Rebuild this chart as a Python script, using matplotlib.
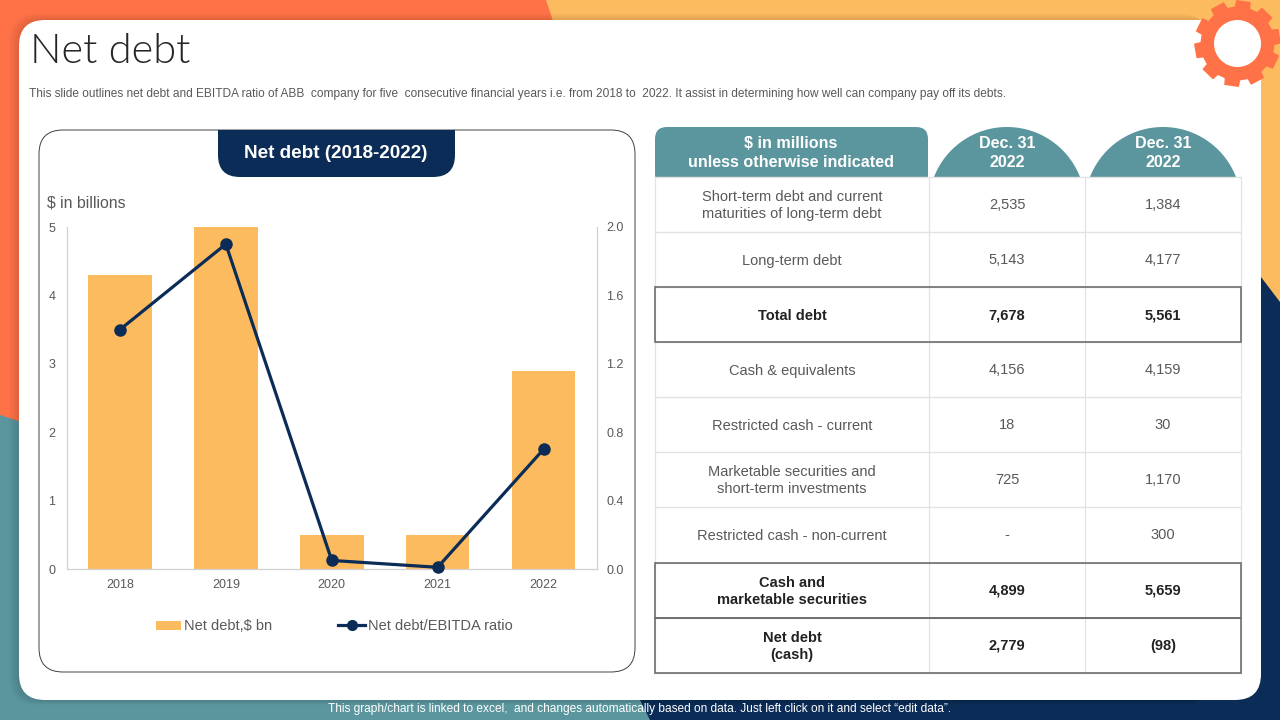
import numpy as np
import matplotlib
matplotlib.use("Agg")
import matplotlib.pyplot as plt
from matplotlib.patches import FancyBboxPatch, Polygon, Rectangle, Circle, PathPatch
from matplotlib.path import Path

# ---------- data ----------
years = ["2018", "2019", "2020", "2021", "2022"]
net_debt = [4.3, 5.0, 0.5, 0.5, 2.9]
ratio = [1.40, 1.90, 0.05, 0.01, 0.70]
left_ticks = [0, 1, 2, 3, 4, 5]
right_ticks = [0.0, 0.4, 0.8, 1.2, 1.6, 2.0]

header = ["$ in millions\nunless otherwise indicated", "Dec. 31\n2022", "Dec. 31\n2022"]
row_labels = ["Short-term debt and current\nmaturities of long-term debt", "Long-term debt", "Total debt",
              "Cash & equivalents", "Restricted cash - current",
              "Marketable securities and\nshort-term investments", "Restricted cash - non-current",
              "Cash and\nmarketable securities", "Net debt\n(cash)"]
col_a = ["2,535", "5,143", "7,678", "4,156", "18", "725", "-", "4,899", "2,779"]
col_b = ["1,384", "4,177", "5,561", "4,159", "30", "1,170", "300", "5,659", "(98)"]
bold_rows = [2, 7, 8]

title = "Net debt"
subtitle = ("This slide outlines net debt and EBITDA ratio of ABB  company for five  consecutive financial years i.e. "
            "from 2018 to  2022. It assist in determining how well can company pay off its debts.")
footer = "This graph/chart is linked to excel,  and changes automatically based on data. Just left click on it and select \u201cedit data\u201d."

ORANGE, YELLOW, TEAL, NAVY = "#FF7247", "#FDBB5F", "#5B969E", "#0B2C56"
GREY = "#595959"
plt.rcParams["font.family"] = ["Liberation Sans", "DejaVu Sans"]

fig = plt.figure(figsize=(12.8, 7.2), dpi=100)
bg = fig.add_axes([0, 0, 1, 1])
bg.set_xlim(0, 1280); bg.set_ylim(720, 0); bg.axis("off")

# ---------- background ----------
bg.add_patch(Rectangle((0, 0), 1280, 720, fc=TEAL, ec="none", zorder=0))
bg.add_patch(Polygon([(0, 0), (548, 0), (556, 30), (40, 30), (40, 428), (0, 415)], fc=ORANGE, ec="none", zorder=1))
bg.add_patch(Polygon([(546, 0), (1280, 0), (1280, 320), (1200, 320), (1200, 30), (556, 30)], fc=YELLOW, ec="none", zorder=1))
bg.add_patch(Polygon([(1261, 277), (1280, 302), (1280, 720), (650, 720), (640, 700), (640, 650), (1261, 650)],
                     fc=NAVY, ec="none", zorder=1))
# soft panel shadow, offset to the top-left
for pad in [2, 4, 6, 8, 10]:
    bg.add_patch(FancyBboxPatch((19 - pad, 20 - pad * 0.6), 1200, 680 + pad * 0.6 + pad * 0.5,
                                boxstyle="round,pad=0,rounding_size=28", fc="#000000", alpha=0.022, ec="none", zorder=2))
bg.add_patch(FancyBboxPatch((19, 20), 1242, 680, boxstyle="round,pad=0,rounding_size=26",
                            fc="white", ec="none", zorder=3))

# gear
cx, cy = 1237.5, 43.5
n_teeth = 10
ang, rad = [], []
for i in range(n_teeth):
    a0 = 2 * np.pi * i / n_teeth + np.radians(-10)
    w = 2 * np.pi / n_teeth
    ang += [a0 - 0.34 * w, a0 - 0.27 * w, a0 + 0.27 * w, a0 + 0.34 * w]
    rad += [37, 43.5, 43.5, 37]
gx = cx + np.array(rad) * np.cos(ang)
gy = cy + np.array(rad) * np.sin(ang)
bg.add_patch(Polygon(np.c_[gx, gy], fc=ORANGE, ec="none", zorder=6))
bg.add_patch(Circle((cx, cy), 23.5, fc="white", ec="none", zorder=7))

# titles
bg.text(30, 51.5, title, fontsize=30, family="Lato", fontweight=300, color="#262626", va="center", ha="left", zorder=8)
bg.text(29, 93.5, subtitle, fontsize=8.55, color=GREY, va="center", ha="left", zorder=8)
bg.text(640, 709, footer, fontsize=8.6, color="white", va="center", ha="center", zorder=8)

# chart frame
bg.add_patch(FancyBboxPatch((39, 130), 596, 542, boxstyle="round,pad=0,rounding_size=24",
                            fc="white", ec="#404040", lw=0.7, zorder=4))
p = Path([(218, 130), (455, 130), (455, 155), (455, 177), (433, 177), (240, 177), (218, 177), (218, 155), (218, 130)],
         [Path.MOVETO, Path.LINETO, Path.LINETO, Path.CURVE3, Path.CURVE3, Path.LINETO, Path.CURVE3, Path.CURVE3, Path.CLOSEPOLY])
bg.add_patch(PathPatch(p, fc=NAVY, ec="none", zorder=5))
bg.text(336, 153, "Net debt (2018-2022)", fontsize=13.6, fontweight="bold", color="white", ha="center", va="center", zorder=8)
bg.text(47, 203, "$ in billions", fontsize=11.4, color=GREY, ha="left", va="center", zorder=8)

# ---------- chart ----------
L, R, T, B = 67, 596.5, 227, 569
ax = fig.add_axes([L / 1280, 1 - B / 720, (R - L) / 1280, (B - T) / 720], zorder=5)
ax.patch.set_alpha(0)
x = np.arange(len(years))
ax.bar(x, net_debt, width=0.6, color=YELLOW, zorder=2)
ax.set_xlim(-0.5, 4.5); ax.set_ylim(0, 5)
ax.set_xticks(x, years)
ax.set_yticks(left_ticks)
ax.tick_params(axis="both", length=0, labelsize=9, labelcolor=GREY)
ax.tick_params(axis="x", pad=7.5)
ax.tick_params(axis="y", pad=8.5)
for s in ["top", "right"]:
    ax.spines[s].set_visible(False)
for s in ["left", "bottom"]:
    ax.spines[s].set_color("#D0D0D0"); ax.spines[s].set_linewidth(0.9)
ax2 = ax.twinx()
ax2.patch.set_alpha(0)
ax2.plot(x, ratio, color=NAVY, lw=2.3, marker="o", ms=8, zorder=3, clip_on=False)
ax2.set_ylim(0, 2.0)
ax2.set_yticks(right_ticks, [f"{v:.1f}" for v in right_ticks])
ax2.tick_params(axis="y", length=0, labelsize=9, labelcolor=GREY, pad=7)
for s in ["top", "left", "bottom"]:
    ax2.spines[s].set_visible(False)
ax2.spines["right"].set_color("#D0D0D0"); ax2.spines["right"].set_linewidth(0.9)

# legend (manual placement, matching the reference)
bg.add_patch(Rectangle((156, 621), 25, 9, fc=YELLOW, ec="none", zorder=8))
bg.text(184, 625.5, "Net debt,$ bn", fontsize=10.5, color=GREY, va="center", ha="left", zorder=8)
bg.plot([338, 365], [625, 625], color=NAVY, lw=2.3, zorder=8)
bg.plot([351.5], [625], "o", color=NAVY, ms=7, zorder=8)
bg.text(368, 625.5, "Net debt/EBITDA ratio", fontsize=10.5, color=GREY, va="center", ha="left", zorder=8)

# ---------- table ----------
col_x = [655, 929, 1085, 1241]
row_y = [177, 232, 287, 342, 397, 452, 507, 562.5, 618, 673]
bg.add_patch(FancyBboxPatch((655, 127), 273, 60, boxstyle="round,pad=0,rounding_size=12", fc=TEAL, ec="none", zorder=4))
bg.add_patch(Rectangle((650, 177), 285, 14, fc="white", ec="none", zorder=4))
for c0, c1 in [(934, 1080), (1090, 1236)]:
    mx, hw = (c0 + c1) / 2, (c1 - c0) / 2
    h = 50
    r = (hw ** 2 + h ** 2) / (2 * h)
    th0 = np.arcsin(hw / r)
    th = np.linspace(-th0, th0, 60)
    pts = np.c_[mx + r * np.sin(th), 127 + r - r * np.cos(th)]
    bg.add_patch(Polygon(pts, fc=TEAL, ec="none", zorder=4))
for i, h in enumerate(header):
    xc = (col_x[i] + col_x[i + 1]) / 2 - (1 if i == 0 else 0)
    bg.text(xc, 153, h, fontsize=11.6, fontweight="bold", color="white", ha="center", va="center",
            linespacing=1.36, zorder=8)
# grid
for yy in row_y:
    bg.plot([655, 1241], [yy, yy], color="#E2E2E2", lw=1.0, zorder=5, solid_capstyle="butt")
for xx in col_x:
    bg.plot([xx, xx], [177, 673], color="#E2E2E2", lw=0.9, zorder=5)
for r in bold_rows:
    bg.add_patch(Rectangle((655, row_y[r]), 586, row_y[r + 1] - row_y[r], fc="none", ec="#6E6E6E", lw=1.2, zorder=6))
for r in range(len(row_labels)):
    yc = (row_y[r] + row_y[r + 1]) / 2 + 0.5
    w = "bold" if r in bold_rows else "normal"
    col = "#222222" if r in bold_rows else GREY
    bg.text(792, yc + 0.7, row_labels[r], fontsize=10.5, fontweight=w, color=col, ha="center", va="center",
            linespacing=1.3, zorder=8)
    bg.text(1007, yc, col_a[r], fontsize=10.5, fontweight=w, color=col, ha="center", va="center", zorder=8)
    bg.text(1163, yc, col_b[r], fontsize=10.5, fontweight=w, color=col, ha="center", va="center", zorder=8)

fig.savefig("out.png", dpi=100)
